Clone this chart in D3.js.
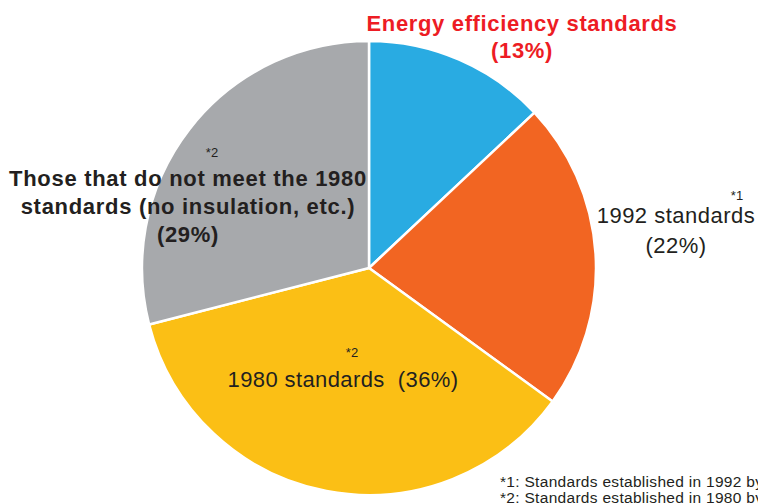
<!DOCTYPE html>
<html>
<head>
<meta charset="utf-8">
<script src="https://cdn.jsdelivr.net/npm/d3@7"></script>
<style>
  body { margin: 0; background: #fff; overflow: hidden; }
  text { font-family: "Liberation Sans", Arial, sans-serif; white-space: pre; }
</style>
</head>
<body>
<script>
// slice data, clockwise from 12 o'clock
var categories = ["Energy efficiency standards", "1992 standards", "1980 standards", "Those that do not meet the 1980 standards"];
var shares = [13, 22, 36, 29];
var colors = ["#29abe2", "#f26522", "#fbbf15", "#a7a9ac"];

var footnotes = [
  "*1: Standards established in 1992 by",
  "*2: Standards established in 1980 by"
];

var w = 758, h = 503;
var cx = 369, cy = 268, r = 227;

var svg = d3.select("body")
  .append("svg")
  .attr("width", w)
  .attr("height", h);

var pie = d3.pie()
  .sort(null)
  .value(d => d);

var arc = d3.arc()
  .innerRadius(0)
  .outerRadius(r);

var g = svg.append("g")
  .attr("transform", "translate(" + cx + "," + cy + ")");

g.selectAll("path")
  .data(pie(shares))
  .enter()
  .append("path")
  .attr("d", arc)
  .attr("fill", (d, i) => colors[i])
  .attr("stroke", "#fff")
  .attr("stroke-width", 2.5)
  .attr("stroke-linejoin", "round");

// labels
function label(x, y, lines, opts) {
  var t = svg.append("text")
    .attr("x", x)
    .attr("y", y)
    .attr("text-anchor", "middle")
    .attr("fill", opts.color || "#231f20")
    .attr("font-size", opts.size || 22)
    .attr("letter-spacing", opts.ls || 0)
    .attr("font-weight", opts.bold ? "bold" : "normal");
  lines.forEach((s, k) => {
    t.append("tspan")
      .attr("x", x)
      .attr("dy", k == 0 ? 0 : opts.lh)
      .text(s);
  });
}

function note(x, y, s) {
  svg.append("text")
    .attr("x", x)
    .attr("y", y)
    .attr("text-anchor", "middle")
    .attr("fill", "#231f20")
    .attr("font-size", 13)
    .text(s);
}

label(522, 31, [categories[0], "(" + shares[0] + "%)"], {bold: true, color: "#ed1c24", size: 22, ls: 0.65, lh: 27});
label(676, 223, [categories[1], "(" + shares[1] + "%)"], {size: 22, ls: 0.5, lh: 30});
note(737, 200, "*1");
label(343, 387, [categories[2] + "  (" + shares[2] + "%)"], {size: 22, ls: 0.4});
note(352, 357, "*2");
label(188, 186, ["Those that do not meet the 1980", "standards (no insulation, etc.)", "(" + shares[3] + "%)"], {bold: true, size: 22, ls: 0.7, lh: 28});
note(212, 157, "*2");

svg.selectAll(".foot")
  .data(footnotes)
  .enter()
  .append("text")
  .attr("class", "foot")
  .attr("x", 500)
  .attr("y", (d, i) => 487 + i * 16)
  .attr("fill", "#231f20")
  .attr("font-size", 15.5)
  .attr("letter-spacing", 0.3)
  .text(d => d);
</script>
</body>
</html>
